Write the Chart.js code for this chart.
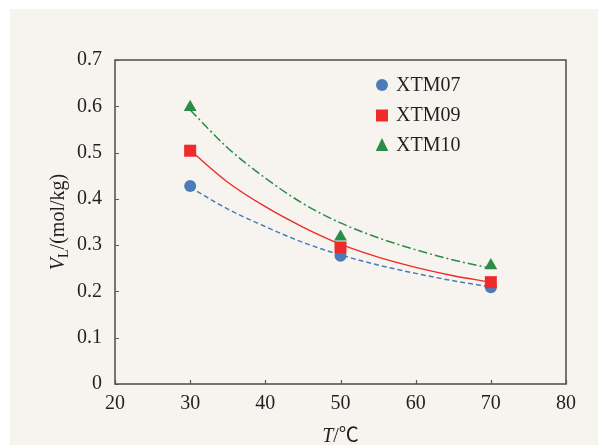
<!DOCTYPE html>
<html>
<head>
<meta charset="utf-8">
<script src="https://cdn.jsdelivr.net/npm/chart.js@4"></script>
<style>
html,body{margin:0;padding:0;background:#ffffff;}
#wrap{width:598px;height:445px;position:relative;}
</style>
</head>
<body>
<div id="wrap"><canvas id="c" width="598" height="445"></canvas></div>
<script>
// ---- data ----
const seriesNames = ['XTM07', 'XTM09', 'XTM10'];
const temps = [30, 50, 70];
const xtm07 = [0.428, 0.277, 0.209];
const xtm09 = [0.504, 0.295, 0.220];
const xtm10 = [0.598, 0.318, 0.256];

// fitted trend curves
const fitT = [30, 35, 40, 45, 50, 55, 60, 65, 70];
const fit07 = [0.425, 0.378, 0.340, 0.306, 0.279, 0.257, 0.239, 0.223, 0.210];
const fit09 = [0.505, 0.436, 0.383, 0.339, 0.302, 0.274, 0.252, 0.234, 0.220];
const fit10 = [0.592, 0.510, 0.445, 0.390, 0.348, 0.316, 0.290, 0.268, 0.250];

const xTicks = [20, 30, 40, 50, 60, 70, 80];
const yTicks = [0, 0.1, 0.2, 0.3, 0.4, 0.5, 0.6, 0.7];

const colors = ['#4a7db8', '#ee2a2a', '#2a8c47'];
const SERIF = '"Liberation Serif", "Times New Roman", serif';

function pts(xs, ys) { return xs.map((x, i) => ({x: x, y: ys[i]})); }

const markerStyles = ['circle', 'rect', 'triangle'];
const markerRadius = [6, 8.5, 7.4];

const pointSets = [xtm07, xtm09, xtm10];
const fitSets = [fit07, fit09, fit10];
const dashes = [[5, 3], [], [9, 3, 2, 3]];
const lineWidths = [1.5, 1.4, 1.5];

const datasets = [];
pointSets.forEach((vals, i) => {
  datasets.push({
    label: seriesNames[i],
    data: pts(temps, vals),
    showLine: false,
    pointStyle: markerStyles[i],
    pointRadius: markerRadius[i],
    pointHoverRadius: markerRadius[i],
    pointBackgroundColor: colors[i],
    pointBorderColor: colors[i],
    pointBorderWidth: 0,
    order: 3 - i
  });
});
fitSets.forEach((vals, i) => {
  datasets.push({
    label: seriesNames[i] + ' fit',
    data: pts(fitT, vals),
    showLine: true,
    pointRadius: 0,
    borderColor: colors[i],
    borderWidth: lineWidths[i],
    borderDash: dashes[i],
    cubicInterpolationMode: 'monotone',
    fill: false,
    order: 10
  });
});

const decor = {
  id: 'decor',
  beforeDraw(chart) {
    const ctx = chart.ctx;
    ctx.save();
    ctx.fillStyle = '#ffffff';
    ctx.fillRect(0, 0, chart.width, chart.height);
    ctx.fillStyle = '#f7f4f0';
    ctx.fillRect(10, 9, chart.width - 10, chart.height - 9);
    ctx.restore();
  },
  afterDatasetsDraw(chart) {
    const ctx = chart.ctx;
    const a = chart.chartArea;
    const xs = chart.scales.x, ys = chart.scales.y;
    ctx.save();
    // inward ticks
    ctx.strokeStyle = '#595959';
    ctx.lineWidth = 1.2;
    ctx.beginPath();
    xTicks.forEach(v => {
      const px = Math.round(xs.getPixelForValue(v)) + 0.5;
      ctx.moveTo(px, a.bottom); ctx.lineTo(px, a.bottom - 4);
    });
    yTicks.forEach(v => {
      const py = Math.round(ys.getPixelForValue(v)) + 0.5;
      ctx.moveTo(a.left, py); ctx.lineTo(a.left + 4, py);
    });
    ctx.stroke();
    // frame
    ctx.lineWidth = 1.6;
    ctx.strokeStyle = '#555555';
    ctx.strokeRect(a.left, a.top, a.right - a.left, a.bottom - a.top);

    // legend
    const lx = 382, textX = 396, rows = [85, 115.5, 145];
    seriesNames.forEach((name, i) => {
      const y = rows[i];
      ctx.fillStyle = colors[i];
      ctx.beginPath();
      if (i === 0) {
        ctx.arc(lx, y, 6, 0, Math.PI * 2);
      } else if (i === 1) {
        ctx.rect(lx - 6, y - 6, 12, 12);
      } else {
        ctx.moveTo(lx, y - 7);
        ctx.lineTo(lx + 6.3, y + 6);
        ctx.lineTo(lx - 6.3, y + 6);
        ctx.closePath();
      }
      ctx.fill();
      ctx.fillStyle = '#231f20';
      ctx.font = '20px ' + SERIF;
      ctx.textAlign = 'left';
      ctx.textBaseline = 'middle';
      ctx.fillText(name, textX, y + 0.5);
    });

    // x title: T/℃
    ctx.fillStyle = '#231f20';
    ctx.textBaseline = 'alphabetic';
    const cx = (a.left + a.right) / 2;
    ctx.font = 'italic 20px ' + SERIF;
    const wT = ctx.measureText('T').width;
    ctx.font = '20px ' + SERIF + ', "Noto Sans CJK SC"';
    const wR = ctx.measureText('/℃').width;
    let sx = cx - (wT + wR) / 2;
    const by = 442;
    ctx.font = 'italic 20px ' + SERIF;
    ctx.fillText('T', sx, by);
    ctx.font = '20px ' + SERIF + ', "Noto Sans CJK SC"';
    ctx.fillText('/℃', sx + wT, by);

    // y title: V_L/(mol/kg)
    ctx.save();
    ctx.translate(64, (a.top + a.bottom) / 2);
    ctx.rotate(-Math.PI / 2);
    ctx.font = 'italic 20px ' + SERIF;
    const wV = ctx.measureText('V').width;
    ctx.font = '14px ' + SERIF;
    const wL = ctx.measureText('L').width;
    ctx.font = '20px ' + SERIF;
    const wRest = ctx.measureText('/(mol/kg)').width;
    let tx = -(wV + wL + wRest) / 2;
    ctx.font = 'italic 20px ' + SERIF;
    ctx.fillText('V', tx, 0);
    tx += wV;
    ctx.font = '14px ' + SERIF;
    ctx.fillText('L', tx, 4);
    tx += wL;
    ctx.font = '20px ' + SERIF;
    ctx.fillText('/(mol/kg)', tx, 0);
    ctx.restore();
    ctx.restore();
  }
};

new Chart(document.getElementById('c'), {
  type: 'scatter',
  data: { datasets: datasets },
  options: {
    responsive: false,
    animation: false,
    events: [],
    layout: { padding: { left: 0, top: 60, right: 32, bottom: 0 } },
    plugins: { legend: { display: false }, tooltip: { enabled: false } },
    scales: {
      x: {
        type: 'linear', min: 20, max: 80,
        afterBuildTicks: s => { s.ticks = xTicks.map(v => ({value: v})); },
        afterFit: s => { s.height = 61; },
        grid: { display: false, drawTicks: false },
        border: { display: false },
        ticks: { color: '#231f20', font: { family: SERIF, size: 20 }, padding: 8, maxRotation: 0,
                 callback: v => String(v) }
      },
      y: {
        type: 'linear', min: 0, max: 0.7,
        afterBuildTicks: s => { s.ticks = yTicks.map(v => ({value: v})); },
        afterFit: s => { s.width = 115; },
        grid: { display: false, drawTicks: false },
        border: { display: false },
        ticks: { color: '#231f20', font: { family: SERIF, size: 20 }, padding: 13,
                 callback: v => (v === 0 ? '0' : v.toFixed(1)) }
      }
    }
  },
  plugins: [decor]
});
</script>
</body>
</html>
